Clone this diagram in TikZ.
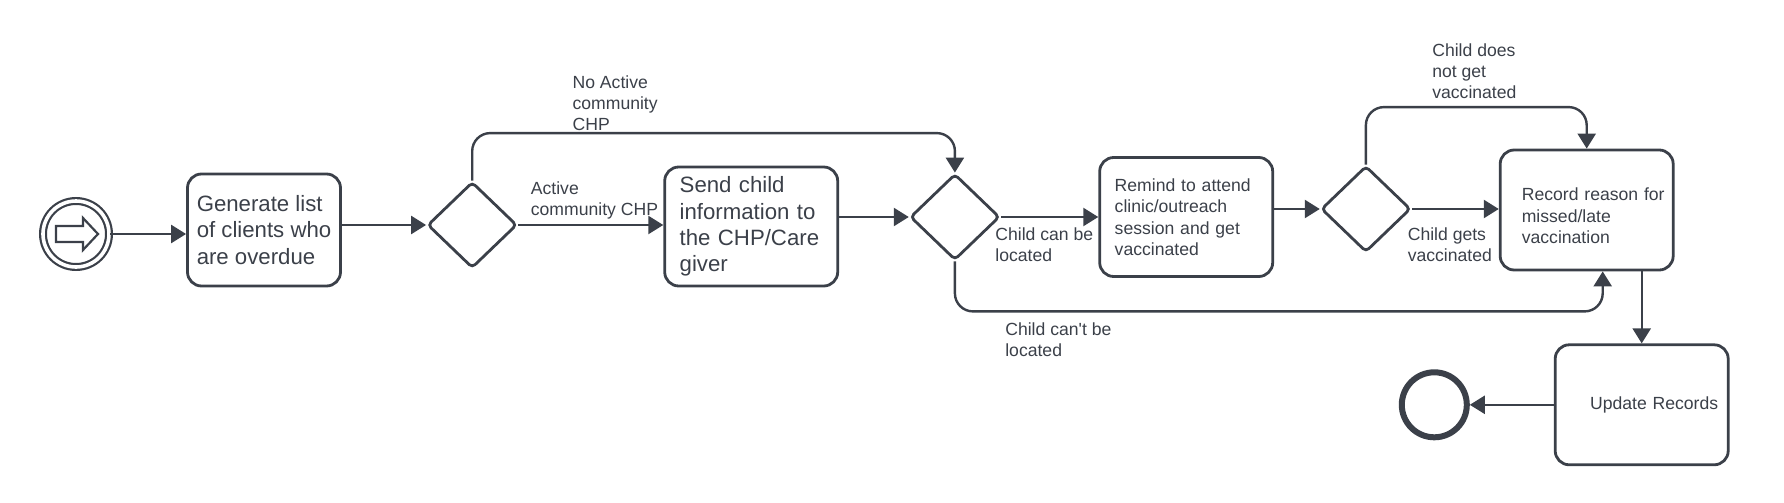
\documentclass[tikz,border=0pt]{standalone}
\usepackage{fontspec}
\setmainfont{Liberation Sans}
\usetikzlibrary{positioning, shapes.geometric, arrows.meta}

\definecolor{ink}{HTML}{3B4049}

\tikzset{
  task/.style={draw=ink, line width=1.4pt, rounded corners=7pt, minimum width=86.5pt, minimum height=59.5pt, align=left, text=ink},
  bigtext/.style={font=\fontsize{11.1pt}{13.2pt}\selectfont},
  smalltext/.style={font=\fontsize{8.8pt}{10.75pt}\selectfont},
  gateway/.style={draw=ink, line width=1.4pt, diamond, rounded corners=2pt, inner sep=0pt, minimum width=44.7pt, minimum height=43pt},
  flow/.style={draw=ink, line width=1.2pt, rounded corners=9pt, -{Triangle[length=7.5pt,width=9pt]}},
  lbl/.style={anchor=north west, inner sep=0pt, align=left, text=ink, font=\fontsize{8.8pt}{10.5pt}\selectfont}
}

\begin{document}
\begin{tikzpicture}
    \useasboundingbox (0,0) rectangle (892pt,-251.5pt);

    % Events
    \node[circle, draw=ink, double, double distance=1.8pt, line width=1.1pt, minimum size=33pt, inner sep=0pt] (start) at (38pt,-117pt) {};
    \draw[ink, line width=1.1pt] ([shift={(-10pt,4pt)}]start.center) -- ++(13.5pt,0) -- ++(0,4pt) -- ++(7.5pt,-8pt) -- ++(-7.5pt,-8pt) -- ++(0,4pt) -- ++(-13.5pt,0) -- cycle;

    % Tasks and gateways
    \node[task, bigtext, right=38pt of start, yshift=2pt, minimum width=76.5pt, minimum height=56pt] (generate) {Generate list\\of clients who\\are overdue};
    \node[gateway, right=42.1pt of generate, yshift=2.5pt] (chp) {};
    \node[task, bigtext, right=72.5pt of chp, yshift=-0.75pt, text width=71.5pt, inner xsep=7.5pt] (send) {Send child\\information to\\the CHP/Care\\giver};
    \node[gateway, right=34.85pt of send, yshift=4.75pt] (locate) {};
    \node[task, smalltext, right=48.65pt of locate, text width=71.5pt, inner xsep=7.5pt] (remind) {Remind to attend\\clinic/outreach\\session and get\\vaccinated};
    \node[gateway, right=22.85pt of remind, yshift=4pt] (vacc) {};
    \node[task, smalltext, right=43.4pt of vacc, yshift=-0.5pt, minimum height=60pt, text width=64.9pt, inner xsep=10.8pt] (record) {\mbox{\rule{0pt}{12.1pt}Record reason for}\\missed/late\\vaccination};
    \node[task, smalltext, below=36pt of record, xshift=27.5pt, minimum height=60pt, text width=76.5pt, inner xsep=5pt, align=right] (update) {Update Records};
    \node[circle, draw=ink, line width=3pt, minimum size=32.5pt, inner sep=0pt, left=42pt of update] (finish) {};

    % Sequence flows
    \draw[flow] (start) -- (start -| generate.west);
    \draw[flow] (generate.east |- chp) -- (chp);
    \draw[flow] (chp) -- (chp -| send.west);
    \draw[flow] (send.east |- locate) -- (locate);
    \draw[flow] (locate) -- (locate -| remind.west);
    \draw[flow] (remind.east |- vacc) -- (vacc);
    \draw[flow] (vacc) -- (vacc -| record.west);
    \draw[flow] (chp.north) -- ++(0,23.75pt) -| (locate.north);
    \draw[flow] (vacc.north) -- ++(0,28.75pt) -| (record.north);
    \draw[flow] (locate.south) -- ++(0,-25pt) -| ([xshift=8pt]record.south);
    \draw[flow] (record.south -| update) -- (update);
    \draw[flow] (update) -- (finish);

    % Labels
    \node[lbl] (noactive) at ([xshift=50pt,yshift=52.5pt]chp.north) {No Active\\community\\CHP};
    \node[lbl] (active) at ([xshift=6.1pt,yshift=21.75pt]chp.east) {Active\\community CHP};
    \node[lbl] (found) at ([xshift=-3pt,yshift=-5.25pt]locate.east) {Child can be\\located};
    \node[lbl] (notfound) at ([xshift=25pt,yshift=-30.5pt]locate.south) {Child can\textquotesingle t be\\located};
    \node[lbl] (gets) at ([xshift=-2.3pt,yshift=-9.25pt]vacc.east) {Child gets\\vaccinated};
    \node[lbl] (notgets) at ([xshift=33pt,yshift=60.5pt]vacc.north) {Child does\\not get\\vaccinated};
\end{tikzpicture}
\end{document}
